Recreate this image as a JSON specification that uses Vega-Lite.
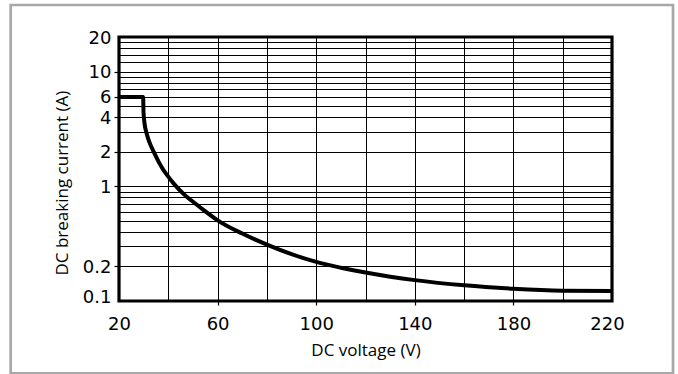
{
  "$schema": "https://vega.github.io/schema/vega-lite/v6.json",
  "width": 493,
  "height": 264,
  "autosize": "none",
  "padding": {"left": 119, "top": 37, "right": 66, "bottom": 73},
  "background": "white",
  "config": {
    "view": {"stroke": "#000", "strokeWidth": 3.2},
    "axis": {
      "domain": false,
      "grid": true,
      "gridColor": "#000",
      "gridWidth": 1,
      "gridOpacity": 1,
      "tickColor": "#000",
      "tickWidth": 1.2,
      "labelFlush": false,
      "labelOverlap": false,
      "labelFont": "DejaVu Sans",
      "labelFontSize": 18,
      "labelColor": "#000",
      "titleFont": "Open Sans",
      "titleFontSize": 17,
      "titleFontWeight": "normal",
      "titleColor": "#000"
    }
  },
  "data": {
    "values": [
      {"v": 20, "i": 6},
      {"v": 29.8, "i": 6},
      {"v": 29.94, "i": 4.44},
      {"v": 30.34, "i": 3.56},
      {"v": 31.16, "i": 2.91},
      {"v": 32.37, "i": 2.41},
      {"v": 34.2, "i": 1.976},
      {"v": 36.6, "i": 1.56},
      {"v": 38, "i": 1.39},
      {"v": 39.07, "i": 1.29},
      {"v": 42.3, "i": 1.05},
      {"v": 46.4, "i": 0.85},
      {"v": 51.2, "i": 0.7},
      {"v": 53.7, "i": 0.635},
      {"v": 60, "i": 0.505},
      {"v": 70, "i": 0.387},
      {"v": 80, "i": 0.31},
      {"v": 90, "i": 0.256},
      {"v": 100, "i": 0.219},
      {"v": 110, "i": 0.195},
      {"v": 120, "i": 0.177},
      {"v": 130, "i": 0.163},
      {"v": 140, "i": 0.152},
      {"v": 160, "i": 0.137},
      {"v": 180, "i": 0.128},
      {"v": 200, "i": 0.123},
      {"v": 220, "i": 0.122}
    ]
  },
  "layer": [
    {
      "data": {"values": [{}]},
      "mark": {
        "type": "rect",
        "filled": false,
        "stroke": "#a8a8a8",
        "strokeWidth": 2.7,
        "x": -108.3,
        "x2": 554,
        "y": -32,
        "y2": 336.3
      },
      "encoding": {}
    },
    {
      "mark": {"type": "line", "color": "#000", "strokeWidth": 4, "interpolate": "monotone", "strokeJoin": "miter", "strokeCap": "butt"},
      "encoding": {
        "x": {
          "field": "v",
          "type": "quantitative",
          "scale": {"domain": [20, 220], "nice": false, "zero": false},
          "axis": {
            "values": [20, 40, 60, 80, 100, 120, 140, 160, 180, 200, 220],
            "labelExpr": "datum.value % 40 == 20 ? datum.label : ''",
            "tickSize": 4,
            "tickOpacity": {"condition": {"test": "datum.value % 40 == 20 && datum.value > 20 && datum.value < 220", "value": 1}, "value": 0},
            "labelPadding": 10,
            "labelOffset": {"condition": {"test": "datum.value == 220", "value": -5}, "value": 0},
            "title": "DC voltage (V)",
            "titleY": 54,
            "titleBaseline": "alphabetic"
          }
        },
        "y": {
          "field": "i",
          "type": "quantitative",
          "scale": {"type": "log", "domain": [0.1, 20], "nice": false},
          "axis": {
            "values": [0.1, 0.2, 0.3, 0.4, 0.5, 0.6, 0.7, 0.8, 0.9, 1, 2, 3, 4, 5, 6, 7, 8, 9, 10, 12, 14, 16, 18, 20],
            "labelExpr": "indexof([0.1, 0.2, 1, 2, 4, 6, 10, 20], datum.value) >= 0 ? format(datum.value, '~g') : ''",
            "tickSize": 5,
            "tickOpacity": {"condition": {"test": "indexof([0.2, 1, 2, 4, 6, 10], datum.value) >= 0", "value": 1}, "value": 0},
            "labelPadding": 3,
            "labelOffset": {"condition": {"test": "datum.value == 0.1", "value": -4}, "value": 1},
            "title": "DC breaking current (A)",
            "titleX": -52,
            "titleY": 145.6,
            "titleBaseline": "alphabetic"
          }
        }
      }
    }
  ]
}
